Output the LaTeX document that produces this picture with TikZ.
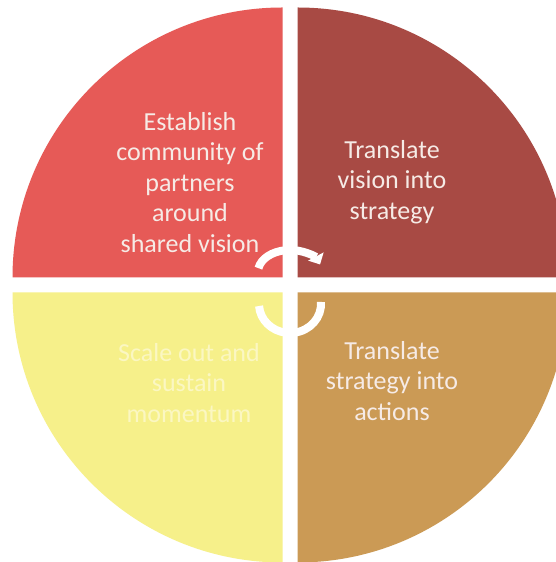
\documentclass[tikz,border=0pt]{standalone}
\usepackage{fontspec}
\setmainfont{Carlito}
\usepackage{tikz}
\usetikzlibrary{arrows.meta}

\definecolor{redq}{HTML}{E65A57}
\definecolor{darkq}{HTML}{A84A44}
\definecolor{ochreq}{HTML}{CB9A55}
\definecolor{yellowq}{HTML}{F6F08A}
\definecolor{paletxt}{HTML}{F6EBE6}
\definecolor{yellowtxt}{HTML}{FBF7C2}

\tikzset{
  label/.style = {align=center, font=\fontsize{26}{30.5}\selectfont, text=paletxt},
  turn/.style  = {draw=white, line width=8pt}
}

\begin{document}
\begin{tikzpicture}[x=1pt, y=1pt]
\useasboundingbox (0,0) rectangle (556,562);
\clip (0,0) rectangle (556,562);
\fill[white] (0,0) rectangle (556,562);
% four quarters, pulled apart
\fill[redq]    (282.5,284.5) -- ++(-270,0) arc (180:90:270) -- cycle;
\fill[darkq]   (297.5,284.5) -- ++(0,270) arc (90:0:270) -- cycle;
\fill[ochreq]  (297.5,269.5) -- ++(270,0) arc (0:-90:270) -- cycle;
\fill[yellowq] (282.5,269.5) -- ++(0,-270) arc (270:180:270) -- cycle;
% texts
\node[label] (tl) at (190,379.5) {Establish\\community of\\partners\\around\\shared vision};
\node[label] (tr) at (392,380) {Translate\\vision into\\strategy};
\node[label] (br) at (392,181) {Translate\\strategy into\\actions};
\node[label, text=yellowtxt] (bl) at (189,179) {Scale out and\\sustain\\momentum};
% arrows round the middle
\coordinate (top) at (290,290);
\coordinate (bot) at (290,258);
\draw[turn] ([shift={(170:32 and 22)}]top) arc[start angle=170, end angle=98, x radius=32, y radius=22];
\draw[turn, -{Triangle[width=17pt, length=9pt]}] ([shift={(82:32 and 22)}]top) arc[start angle=82, end angle=20, x radius=32, y radius=22];
\draw[turn] ([shift={(184:31 and 29)}]bot) arc[start angle=184, end angle=263, x radius=31, y radius=29];
\draw[turn] ([shift={(277:31 and 29)}]bot) arc[start angle=277, end angle=364, x radius=31, y radius=29];
\end{tikzpicture}
\end{document}
